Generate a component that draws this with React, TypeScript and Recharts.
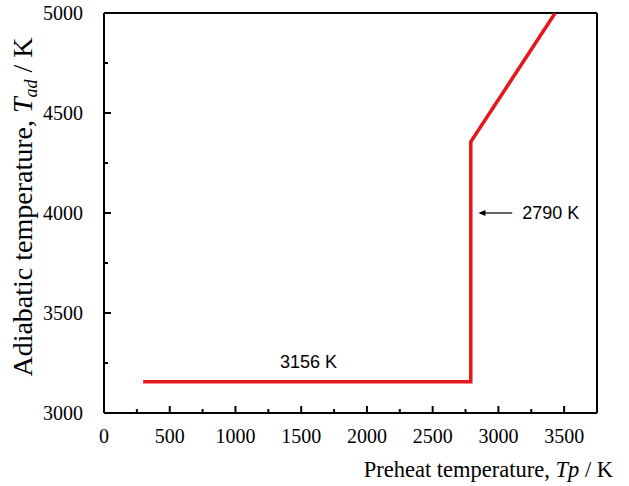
import React from "react";
import {
  LineChart,
  Line,
  XAxis,
  YAxis,
  ReferenceLine,
  ReferenceDot,
} from "recharts";

// Data
const preheatT = [298, 2790, 2790, 3432];
const adiabaticT = [3156, 3156, 4356, 5000];

const xTicks = [0, 250, 500, 750, 1000, 1250, 1500, 1750, 2000, 2250, 2500, 2750, 3000, 3250, 3500];
const yTicks = [3000, 3250, 3500, 3750, 4000, 4250, 4500, 4750, 5000];
const xDomain = [0, 3750];
const yDomain = [3000, 5000];

const plateauLabel = { text: "3156 K", x: 1556, y: 3257 };
const jumpLabel = { text: "2790 K", x: 3181, y: 4000 };
const jumpArrow = { x1: 2848, x2: 3105, y: 4000 };

const data = preheatT.map((x, i) => ({ x, y: adiabaticT[i] }));

const SERIF = "'Liberation Serif', 'Times New Roman', serif";
const SANS = "'Liberation Sans', Arial, sans-serif";
const RED = "#e4161e";

const XTick = (props: any) => {
  const { x, y, payload } = props;
  const v = payload.value;
  const major = v % 500 === 0;
  return (
    <g>
      <line x1={x} y1={y} x2={x} y2={y - (major ? 7 : 4)} stroke="#000" strokeWidth={2} />
      {major && (
        <text x={x} y={y + 30} textAnchor="middle" fontFamily={SERIF} fontSize={20} fill="#000">
          {v}
        </text>
      )}
    </g>
  );
};

const YTick = (props: any) => {
  const { x, y, payload } = props;
  const v = payload.value;
  const major = v % 500 === 0;
  return (
    <g>
      <line x1={x} y1={y} x2={x + (major ? 7 : 4)} y2={y} stroke="#000" strokeWidth={2} />
      {major && (
        <text x={x - 21} y={y + 7} textAnchor="end" fontFamily={SERIF} fontSize={20} fill="#000">
          {v}
        </text>
      )}
    </g>
  );
};

const XTitle = (props: any) => {
  const vb = props.viewBox || { x: 104, y: 413, width: 493, height: 73 };
  return (
    <text
      x={vb.x + vb.width + 16}
      y={vb.y + 64}
      textAnchor="end"
      fontFamily={SERIF}
      fontSize={22.5}
      fill="#000"
    >
      Preheat temperature, <tspan fontStyle="italic">Tp</tspan> / K
    </text>
  );
};

const YTitle = (props: any) => {
  const vb = props.viewBox || { x: 0, y: 13, width: 104, height: 400 };
  const cx = 32;
  const cy = vb.y + vb.height / 2 - 6;
  return (
    <text
      x={cx}
      y={cy}
      transform={`rotate(-90 ${cx} ${cy})`}
      textAnchor="middle"
      fontFamily={SERIF}
      fontSize={28}
      fill="#000"
    >
      Adiabatic temperature, <tspan fontStyle="italic">T</tspan>
      <tspan fontStyle="italic" fontSize={18} dy={5}>ad</tspan>
      <tspan dy={-5}> / K</tspan>
    </text>
  );
};

const ArrowShape = (props: any) => {
  const { x1, y1, x2, y2 } = props;
  const left = Math.min(x1, x2);
  const right = Math.max(x1, x2);
  const y = y1 ?? y2;
  return (
    <g>
      <line x1={left + 5} y1={y} x2={right} y2={y} stroke="#000" strokeWidth={1.2} />
      <polygon points={`${left},${y} ${left + 7},${y - 3} ${left + 7},${y + 3}`} fill="#000" />
    </g>
  );
};

const makeTextShape = (text: string, anchor: string) => (props: any) => (
  <text
    x={props.cx}
    y={props.cy + 6}
    textAnchor={anchor}
    fontFamily={SANS}
    fontSize={18}
    fill="#000"
  >
    {text}
  </text>
);

export default function App() {
  return (
    <div style={{ position: "absolute", left: 0, top: 0, width: 629, height: 486, background: "#fff" }}>
      <LineChart
        width={629}
        height={486}
        data={data}
        margin={{ top: 13, right: 32, bottom: 0, left: 0 }}
      >
        <XAxis
          dataKey="x"
          type="number"
          domain={xDomain}
          ticks={xTicks}
          interval={0}
          allowDataOverflow
          height={73}
          tickSize={0}
          tickMargin={0}
          tickLine={false}
          tick={<XTick />}
          axisLine={{ stroke: "#000", strokeWidth: 2 }}
          label={<XTitle />}
        />
        <YAxis
          type="number"
          domain={yDomain}
          ticks={yTicks}
          interval={0}
          allowDataOverflow
          width={104}
          tickSize={0}
          tickMargin={0}
          tickLine={false}
          tick={<YTick />}
          axisLine={{ stroke: "#000", strokeWidth: 2 }}
          label={<YTitle />}
        />
        <ReferenceLine y={yDomain[1]} stroke="#000" strokeWidth={2} ifOverflow="visible" />
        <ReferenceLine x={xDomain[1]} stroke="#000" strokeWidth={2} ifOverflow="visible" />
        <Line
          dataKey="y"
          type="linear"
          stroke={RED}
          strokeWidth={3.5}
          dot={false}
          activeDot={false}
          isAnimationActive={false}
          strokeLinejoin="miter"
        />
        <ReferenceLine
          segment={[
            { x: jumpArrow.x1, y: jumpArrow.y },
            { x: jumpArrow.x2, y: jumpArrow.y },
          ]}
          shape={<ArrowShape />}
        />
        <ReferenceDot
          x={jumpLabel.x}
          y={jumpLabel.y}
          r={0}
          shape={makeTextShape(jumpLabel.text, "start")}
        />
        <ReferenceDot
          x={plateauLabel.x}
          y={plateauLabel.y}
          r={0}
          shape={makeTextShape(plateauLabel.text, "middle")}
        />
      </LineChart>
    </div>
  );
}
